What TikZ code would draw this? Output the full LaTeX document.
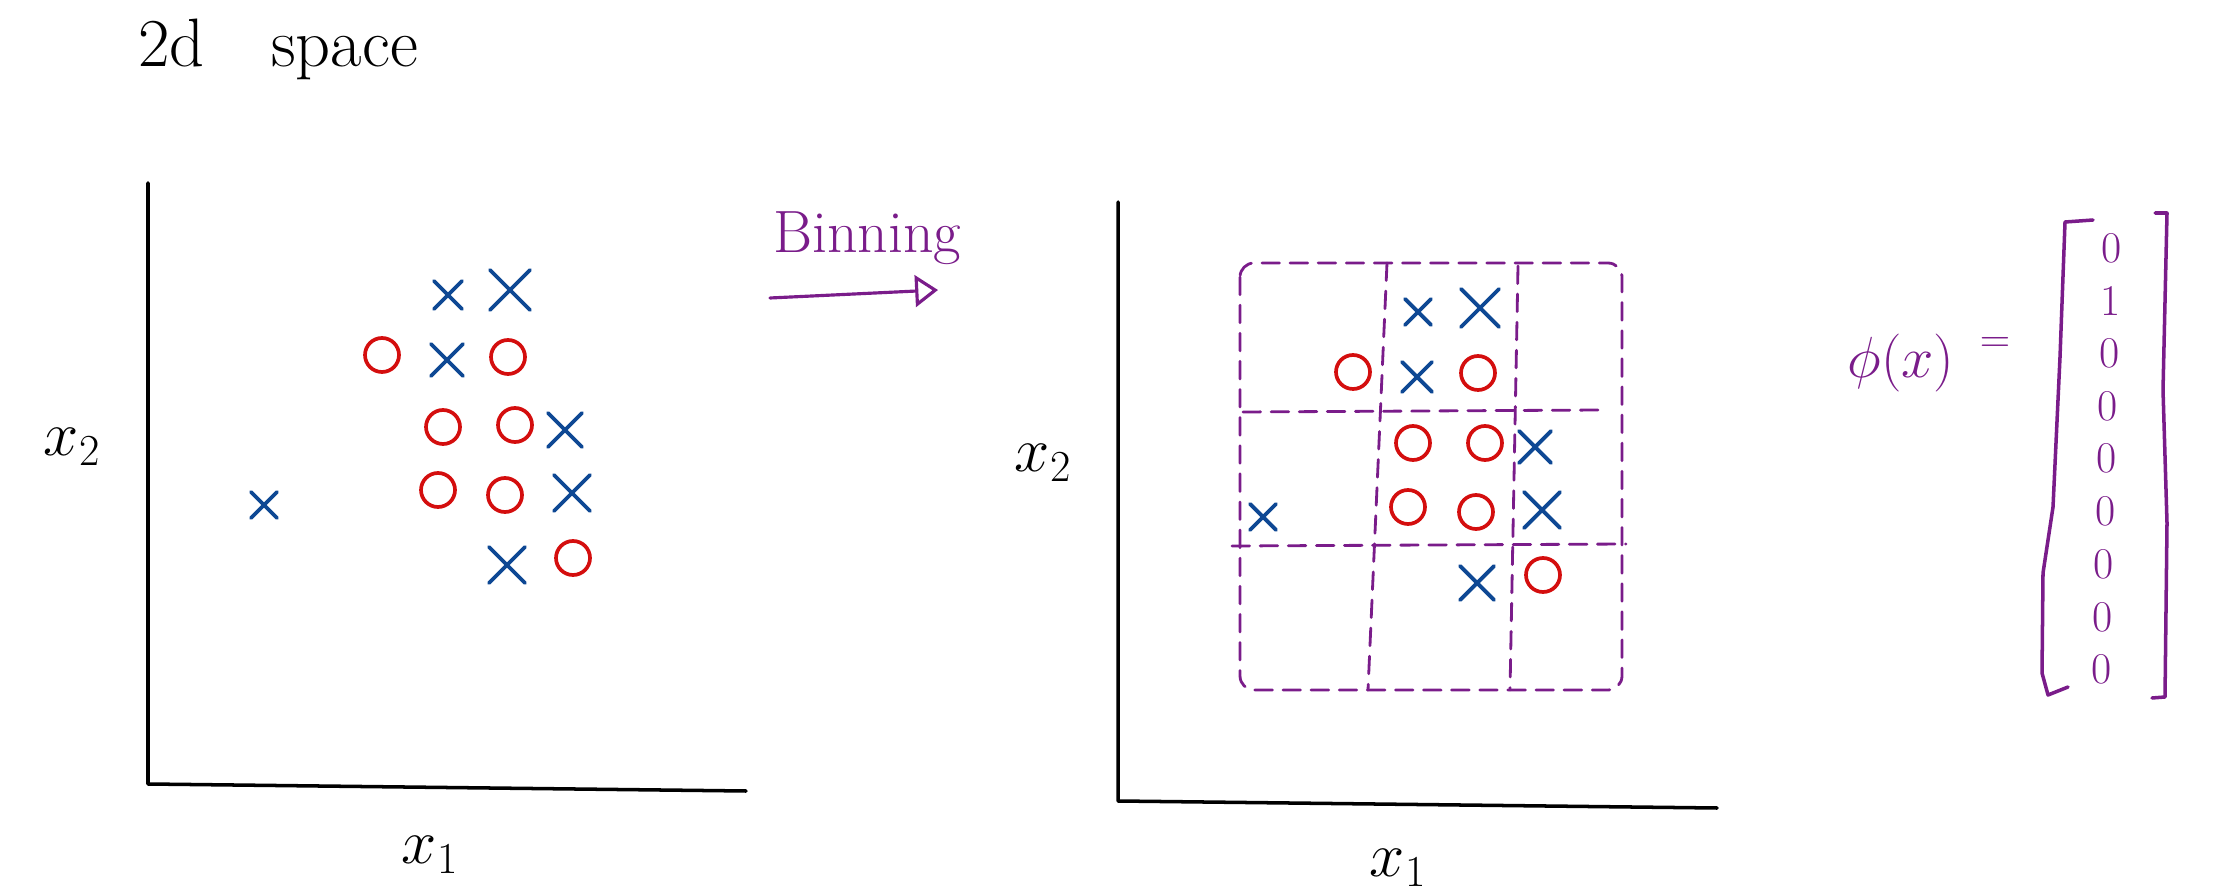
\RequirePackage{fix-cm}
\documentclass[tikz,border=0pt]{standalone}
\usepackage{tikz}
\usetikzlibrary{arrows.meta}

\definecolor{binpurple}{RGB}{122,28,138}
\definecolor{ored}{RGB}{212,14,14}
\definecolor{xblue}{RGB}{14,72,148}

\begin{document}
\begin{tikzpicture}[x=0.02cm, y=-0.02cm, line cap=round, line join=round,
    axisline/.style={line width=2pt, black},
    xstroke/.style={line width=2.2pt, xblue},
    ostroke/.style={line width=2.1pt, ored},
    binline/.style={line width=1.6pt, binpurple, dash pattern=on 10pt off 6pt},
    axislabel/.style={font=\fontsize{36}{40}\selectfont},
    vecentry/.style={binpurple, font=\fontsize{25}{28}\selectfont, inner sep=0pt}]
    \useasboundingbox (0,0) rectangle (2214,891);

    % Title
    \node[font=\fontsize{39}{44}\selectfont, anchor=base west, inner sep=0pt]
        (title) at (138,67) {2d\enspace\, space};

    \begin{scope}
    % Axes
    \coordinate (O) at (148,784);
    \draw[axisline] (148,183) -- (O) -- (746,791);
    \node[axislabel] (xtwo) at (72,447) {$x_2$};
    \node[axislabel] (xone) at (430,855) {$x_1$};

    % Crosses
    \foreach \px/\py/\s in {448/295/14, 510/290/20, 447/360/16, 565/430/17,
        572/493/18, 507/565/18, 264/505/13}
        \draw[xstroke] (\px-\s,\py+\s) -- (\px+\s,\py-\s) (\px-\s,\py-\s) -- (\px+\s,\py+\s);

    % Circles
    \foreach \px/\py in {382/355, 508/357, 443/427, 515/425, 438/490, 505/495, 573/558}
        \draw[ostroke] (\px,\py) circle (17);
    \end{scope}

    % Binning arrow
    \node[binpurple, font=\fontsize{34}{38}\selectfont, anchor=base west, inner sep=0pt]
        (binning) at (773,253) {Binning};
    \coordinate (binstart) at (770,298);
    \coordinate (binend) at (938,290);
    \draw[-{Triangle[open, length=13pt, width=18pt]}, line width=1.8pt, binpurple]
        (binstart) -- (binend);

    \begin{scope}[shift={(970,17)}]
    % Axes
    \coordinate (O) at (148,784);
    \draw[axisline] (148,185) -- (O) -- (747,791);
    \node[axislabel] (xtwo) at (73,446) {$x_2$};
    \node[axislabel] (xone) at (428,851) {$x_1$};

    % Bins
    \draw[binline, rounded corners=8pt] (270,246) rectangle (652,673);
    \draw[binline] (417,246) -- (398,673);
    \draw[binline] (548,249) -- (540,673);
    \draw[binline] (273,395) -- (630,393);
    \draw[binline] (262,529) -- (656,527);

    % Crosses
    \foreach \px/\py/\s in {448/295/13, 510/291/19, 447/360/15, 565/430/16,
        572/493/18, 507/566/17, 293/500/13}
        \draw[xstroke] (\px-\s,\py+\s) -- (\px+\s,\py-\s) (\px-\s,\py-\s) -- (\px+\s,\py+\s);

    % Circles
    \foreach \px/\py in {383/355, 508/356, 443/426, 515/426, 438/490, 506/495, 573/558}
        \draw[ostroke] (\px,\py) circle (17);
    \end{scope}

    % Feature vector
    \node[binpurple, font=\fontsize{33}{36}\selectfont, anchor=base, inner sep=0pt]
        (phi) at (1901,378) {$\phi(x)$};
    \node[binpurple, font=\fontsize{24}{26}\selectfont, inner sep=0pt] (eqsign) at (1995,345) {$=$};
    \foreach \v [count=\i] in {0,1,0,0,0,0,0,0,0}
        \node[vecentry] (v\i) at ({2113-1.3*\i}, {248+52.7*(\i-1)}) {\v};
    \draw[line width=2pt, binpurple] (2093,220) -- (2065,222) -- (2060,357) -- (2053,507)
        -- (2043,573) -- (2042,673) -- (2048,695) -- (2068,687);
    \draw[line width=2pt, binpurple] (2155,213) -- (2167,213) -- (2163,390) -- (2167,523)
        -- (2165,697) -- (2152,698);
\end{tikzpicture}
\end{document}
